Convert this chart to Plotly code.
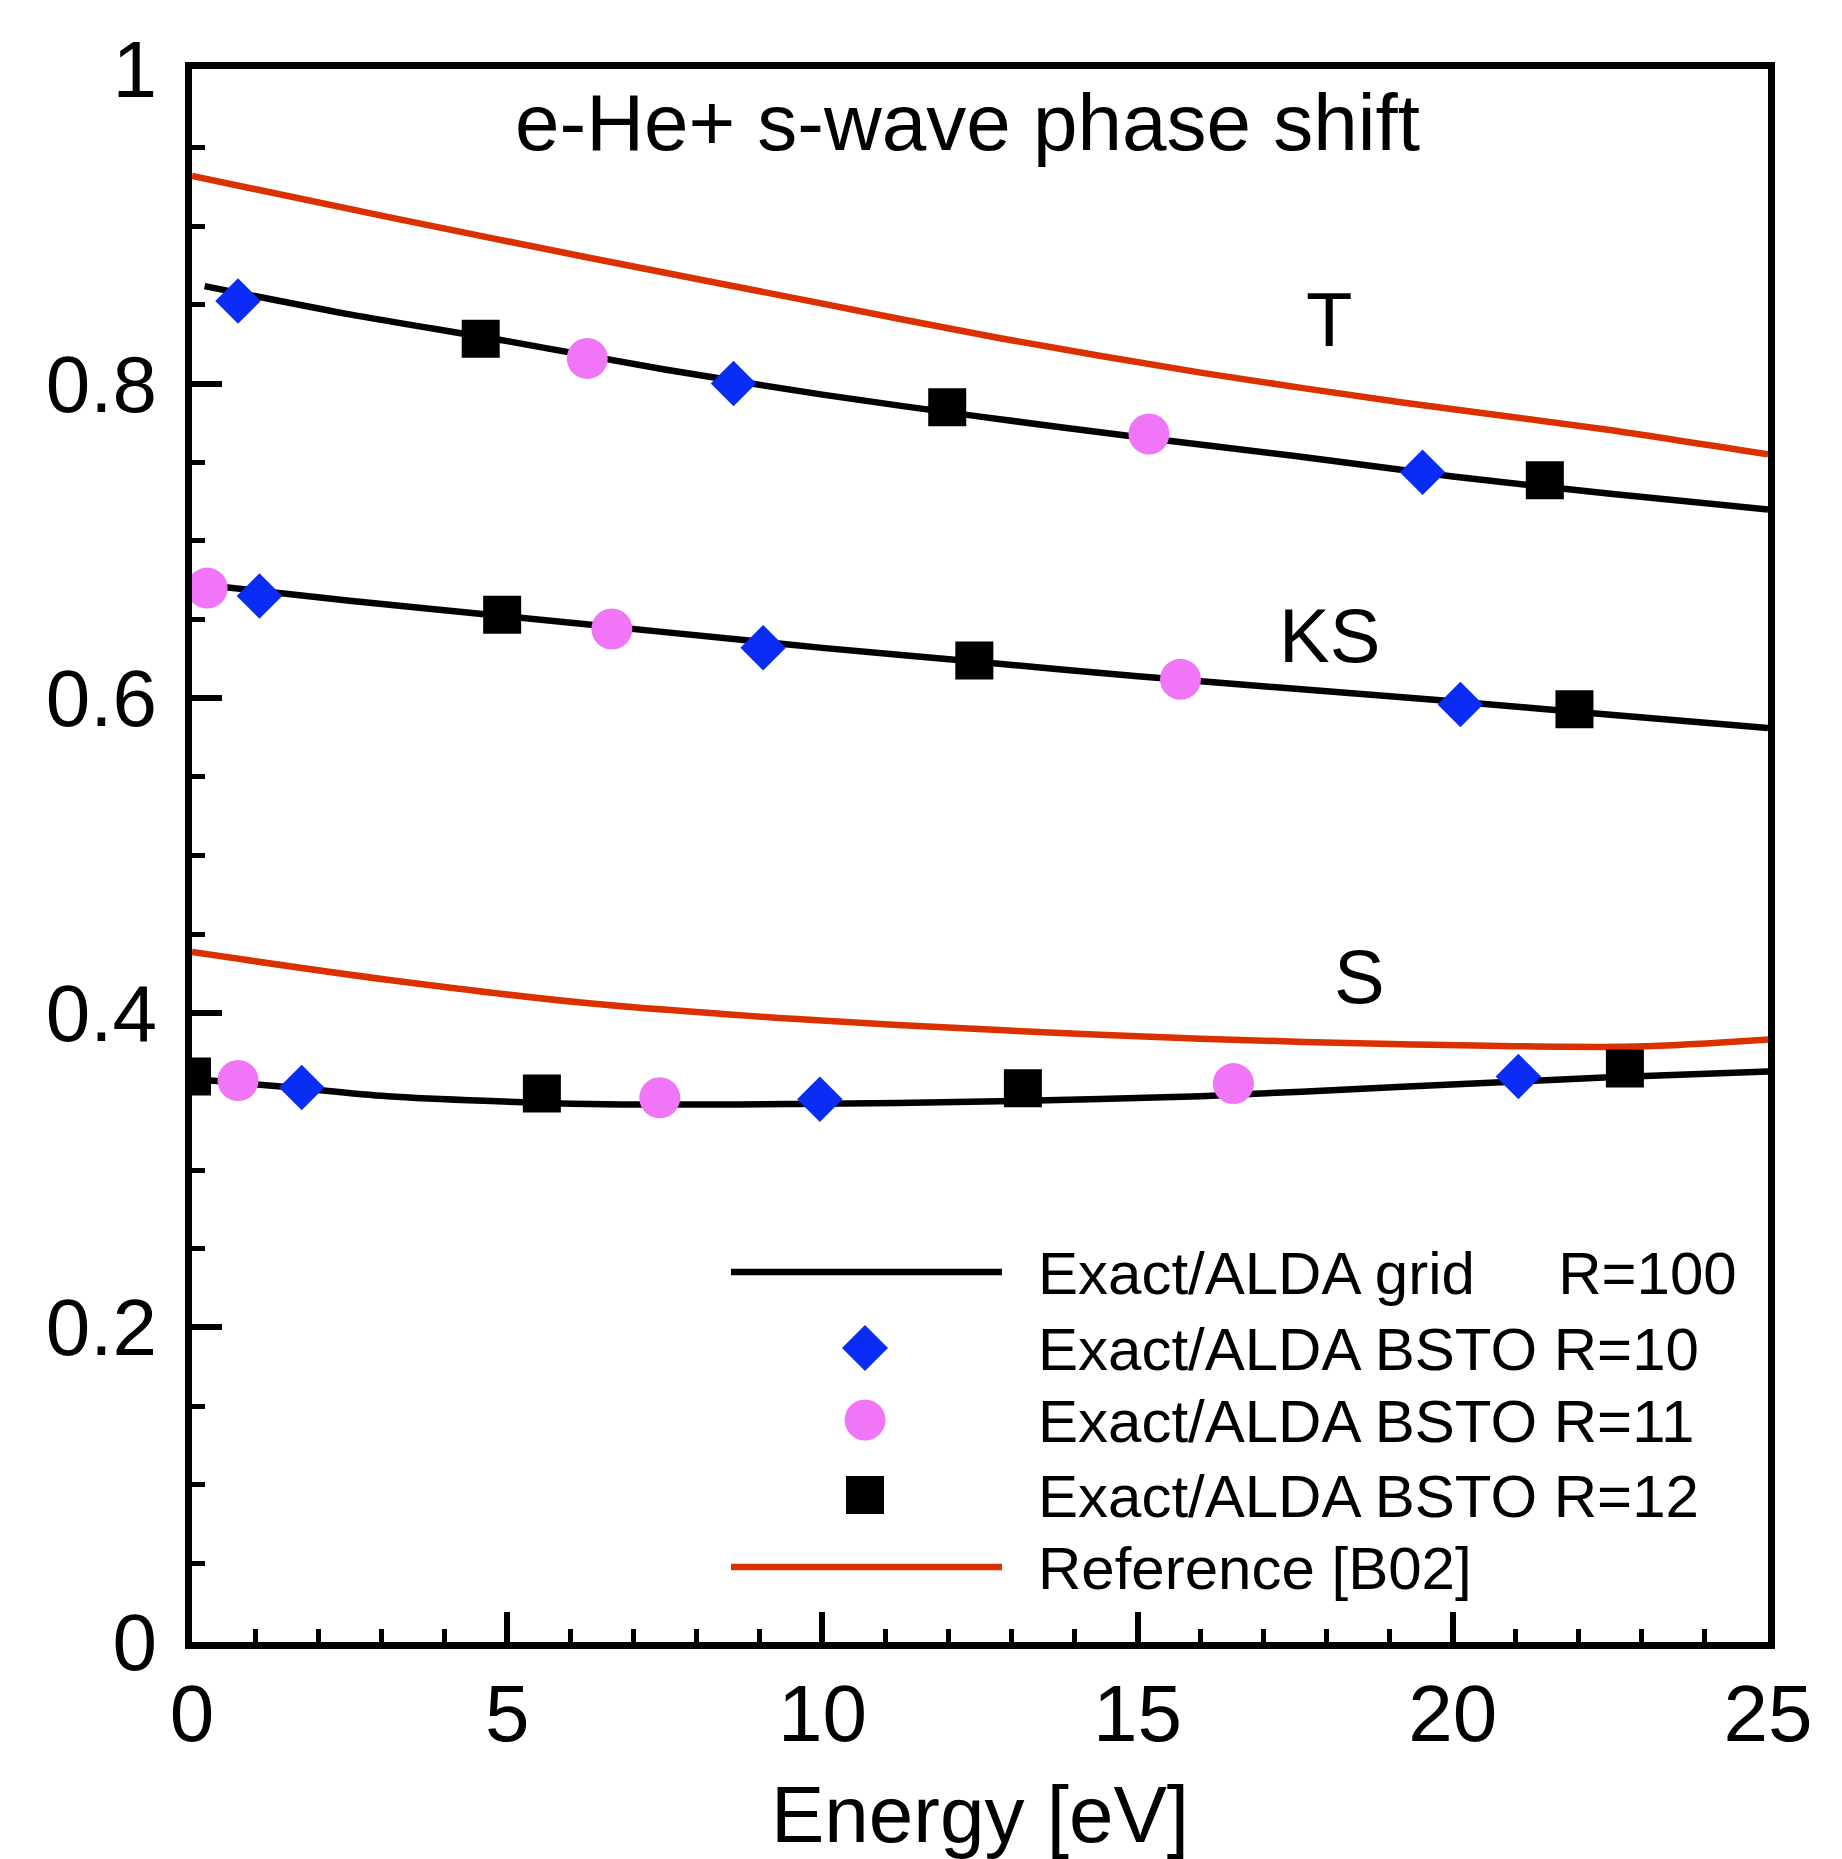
import plotly.graph_objects as go

# ---------------- data ----------------
# continuous curves (Exact/ALDA grid R=100)
E_grid = [0.2, 2.5, 5.0, 7.5, 10.0, 12.5, 15.0, 17.5, 20.0, 22.5, 25.0]
T_grid = [0.862, 0.844, 0.827, 0.809, 0.793, 0.779, 0.766, 0.754, 0.741, 0.730, 0.720]
KS_grid = [0.672, 0.662, 0.652, 0.642, 0.632, 0.623, 0.614, 0.606, 0.598, 0.5895, 0.581]
E_S_grid = [0.0, 1.6, 3.1, 6.3, 9.6, 12.8, 16.0, 19.2, 22.4, 25.0]
S_grid = [0.358, 0.3525, 0.347, 0.342, 0.342, 0.3437, 0.347, 0.353, 0.3588, 0.3627]

# reference [B02]
E_ref_T = [0.0, 3.1, 6.3, 9.6, 12.8, 16.0, 19.2, 22.4, 25.0]
T_ref = [0.932, 0.906, 0.880, 0.854, 0.829, 0.807, 0.788, 0.771, 0.755]
E_ref_S = [0.0, 3.1, 6.3, 9.6, 12.8, 16.0, 19.2, 22.9, 25.0]
S_ref = [0.4386, 0.421, 0.406, 0.396, 0.389, 0.3835, 0.380, 0.3785, 0.383]

# BSTO R=10 (diamonds): T, KS, S
E_R10 = [0.73, 8.59, 19.52, 1.07, 9.06, 20.12, 1.74, 9.96, 21.04]
Y_R10 = [0.8525, 0.800, 0.7437, 0.665, 0.632, 0.596, 0.3525, 0.345, 0.3595]
# BSTO R=11 (circles)
E_R11 = [6.27, 15.18, 0.24, 6.66, 15.68, 0.73, 7.42, 16.52]
Y_R11 = [0.816, 0.768, 0.670, 0.644, 0.612, 0.357, 0.346, 0.355]
# BSTO R=12 (squares)
E_R12 = [4.58, 11.98, 21.46, 4.92, 12.41, 21.93, 0.0, 5.55, 13.18, 22.73]
Y_R12 = [0.8285, 0.785, 0.7386, 0.653, 0.624, 0.593, 0.3595, 0.3487, 0.352, 0.3646]

curve_labels = ["T", "KS", "S"]
curve_label_pos = [(18.04, 0.841), (18.04, 0.640), (18.52, 0.423)]

legend_names = ["Exact/ALDA grid\u00a0\u00a0\u00a0\u00a0\u00a0R=100",
                "Exact/ALDA BSTO R=10",
                "Exact/ALDA BSTO R=11",
                "Exact/ALDA BSTO R=12",
                "Reference [B02]"]

BLACK = "#000000"
RED = "#DB3100"
BLUE = "#0A2CF4"
PINK = "#F075F7"
FONT = "Liberation Sans, Arial, Helvetica, sans-serif"

fig = go.Figure()

line_kw = dict(mode="lines", line=dict(width=6.5, shape="spline", smoothing=0.8), showlegend=False, hoverinfo="skip")
fig.add_trace(go.Scatter(x=E_ref_T, y=T_ref, line_color=RED, **line_kw))
fig.add_trace(go.Scatter(x=E_ref_S, y=S_ref, line_color=RED, **line_kw))
fig.add_trace(go.Scatter(x=E_grid, y=T_grid, line_color=BLACK, **line_kw))
fig.add_trace(go.Scatter(x=E_grid, y=KS_grid, line_color=BLACK, **line_kw))
fig.add_trace(go.Scatter(x=E_S_grid, y=S_grid, line_color=BLACK, **line_kw))

fig.add_trace(go.Scatter(x=E_R10, y=Y_R10, mode="markers", showlegend=False,
                         marker=dict(symbol="diamond", size=35, color=BLUE, line_width=0)))
fig.add_trace(go.Scatter(x=E_R11, y=Y_R11, mode="markers", showlegend=False,
                         marker=dict(symbol="circle", size=41, color=PINK, line_width=0)))
fig.add_trace(go.Scatter(x=E_R12, y=Y_R12, mode="markers", showlegend=False,
                         marker=dict(symbol="square", size=38, color=BLACK, line_width=0)))

# ---------------- layout ----------------
W, H = 1842, 1859
L, R, T, B = 192, 74, 69, 217

axis_common = dict(showline=True, linecolor="black", linewidth=7, mirror=True,
                   ticks="inside", tickcolor="black", ticklen=30, tickwidth=5.5,
                   showgrid=False, zeroline=False,
                   tickfont=dict(family=FONT, size=80, color="black"))

fig.update_xaxes(range=[0, 25], tickvals=[0, 5, 10, 15, 20, 25],
                 minor=dict(dtick=1, ticks="inside", ticklen=13, tickwidth=4.5, tickcolor="black"),
                 ticklabelstandoff=-4,
                 title=dict(text="Energy [eV]", font=dict(family=FONT, size=80, color="black"), standoff=34),
                 **axis_common)
fig.update_yaxes(range=[0, 1], tickvals=[0, 0.2, 0.4, 0.6, 0.8, 1.0],
                 ticktext=["0", "0.2", "0.4", "0.6", "0.8", "1"],
                 minor=dict(dtick=0.05, ticks="inside", ticklen=13, tickwidth=4.5, tickcolor="black"),
                 ticklabelstandoff=12,
                 **axis_common)

annotations = []
annotations.append(dict(text="e-He+ s-wave phase shift", xref="paper", yref="paper",
                        x=0.4918, y=0.966, xanchor="center", yanchor="middle", showarrow=False,
                        font=dict(family=FONT, size=80, color="black")))
for lab, (lx, ly) in zip(curve_labels, curve_label_pos):
    annotations.append(dict(text=lab, x=lx, y=ly, xref="x", yref="y", showarrow=False,
                            xanchor="center", yanchor="middle",
                            font=dict(family=FONT, size=76, color="black")))

# manual legend (paper coordinates)
pw = W - L - R
ph = H - T - B
def px(xpix):
    return (xpix - L) / pw
def py(ypix):
    return (H - B - ypix) / ph

row_y = [1272, 1348, 1420, 1495, 1567]
line_x0, line_x1, mark_x, text_x = 731, 1002, 865, 1036

shapes = []
shapes.append(dict(type="line", xref="paper", yref="paper", x0=px(line_x0), x1=px(line_x1),
                   y0=py(row_y[0]), y1=py(row_y[0]), line=dict(color=BLACK, width=6.5)))
shapes.append(dict(type="line", xref="paper", yref="paper", x0=px(line_x0), x1=px(line_x1),
                   y0=py(row_y[4]), y1=py(row_y[4]), line=dict(color=RED, width=6.5)))
shapes.append(dict(type="path", xref="paper", yref="paper", xsizemode="pixel", ysizemode="pixel",
                   xanchor=px(mark_x), yanchor=py(row_y[1]),
                   path="M0,23 L23,0 L0,-23 L-23,0 Z", fillcolor=BLUE, line=dict(width=0)))
shapes.append(dict(type="circle", xref="paper", yref="paper", xsizemode="pixel", ysizemode="pixel",
                   xanchor=px(mark_x), yanchor=py(row_y[2]), x0=-20.5, x1=20.5, y0=-20.5, y1=20.5,
                   fillcolor=PINK, line=dict(width=0)))
shapes.append(dict(type="rect", xref="paper", yref="paper", xsizemode="pixel", ysizemode="pixel",
                   xanchor=px(mark_x), yanchor=py(row_y[3]), x0=-19, x1=19, y0=-19, y1=19,
                   fillcolor=BLACK, line=dict(width=0)))

for name, yy in zip(legend_names, row_y):
    annotations.append(dict(text=name, xref="paper", yref="paper", x=px(text_x), y=py(yy + 1),
                            xanchor="left", yanchor="middle", showarrow=False,
                            font=dict(family=FONT, size=60, color="black")))

fig.update_layout(width=W, height=H, margin=dict(l=L, r=R, t=T, b=B, pad=0),
                  paper_bgcolor="white", plot_bgcolor="white",
                  showlegend=False, annotations=annotations, shapes=shapes,
                  font=dict(family=FONT, color="black"))

fig.write_html("out.html", config={"displayModeBar": False},
               post_script="document.body.style.margin='0';document.body.style.overflow='hidden';")
